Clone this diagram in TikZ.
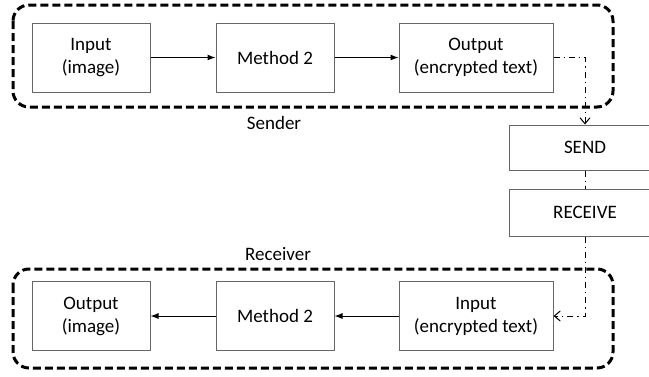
\documentclass[tikz,border=0pt]{standalone}
\usepackage{fontspec}
\setmainfont{Carlito}
\usepackage{tikz}
\usetikzlibrary{arrows.meta}

\tikzset{
box/.style={draw=black!60,line width=0.5pt,align=center,inner sep=0pt,minimum height=34.5pt},
group/.style={line width=1.5pt,dash pattern=on 4pt off 2pt,rounded corners=8pt},
link/.style={line width=0.5pt,-{Latex[length=4pt,width=3pt]}},
transfer/.style={line width=0.5pt,dash pattern=on 3pt off 2pt on 0.6pt off 2pt,-{Straight Barb[length=3pt,width=5pt]}}
}

\begin{document}
\begin{tikzpicture}[x=0.5pt,y=-0.5pt,font=\fontsize{9.5}{11.5}\selectfont]
\useasboundingbox (0,0) rectangle (649,376);
\clip (0,0) rectangle (649,376);
%sender side
\draw[group](13,5)rectangle(613,107);
\node[box,minimum width=59pt] (sin) at (91,57.5) {Input\\(image)};
\node[box,minimum width=59pt] (smeth) at (275,57.5) {Method 2};
\node[box,minimum width=77pt] (sout) at (476,57.5) {Output\\(encrypted text)};
\node (sender) at (274,123) {Sender};
\draw[link](sin)--(smeth);
\draw[link](smeth)--(sout);
%channel
\node[box,minimum width=76pt,minimum height=22.5pt] (send) at (585,147.5) {SEND};
\node[box,minimum width=76pt,minimum height=23.5pt] (recv) at (585,212.5) {RECEIVE};
%receiver side
\node (receiver) at (278,254) {Receiver};
\draw[group](13,269)rectangle(613,368);
\node[box,minimum width=77pt] (rin) at (476,316) {Input\\(encrypted text)};
\node[box,minimum width=59pt] (rmeth) at (275,316) {Method 2};
\node[box,minimum width=59pt] (rout) at (91,316) {Output\\(image)};
\draw[link](rin)--(rmeth);
\draw[link](rmeth)--(rout);
\draw[transfer](sout.east)-|(send.north);
\draw[transfer,-](send.south)--(recv.north);
\draw[transfer](recv.south)|-(rin.east);
\end{tikzpicture}
\end{document}
